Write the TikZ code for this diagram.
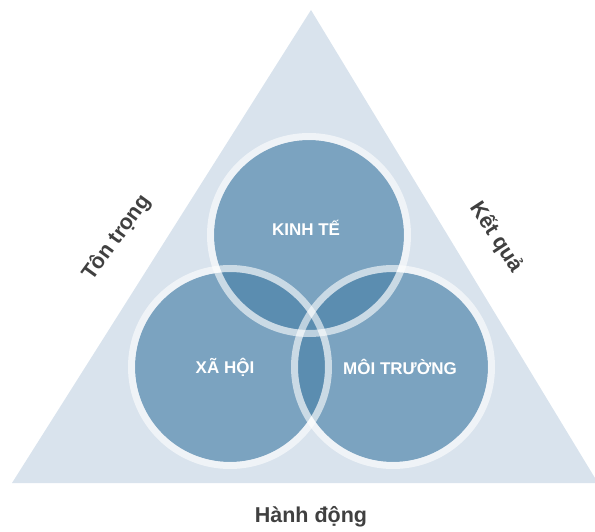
\documentclass[tikz,border=0pt]{standalone}
\usepackage{fontspec}
\setmainfont{Liberation Sans}
\definecolor{tri}{HTML}{D9E3ED}
\definecolor{cfill}{HTML}{7BA3C0}
\definecolor{cdark}{HTML}{5B8DB0}
\definecolor{txt}{HTML}{404040}
\tikzset{
  inlabel/.style={text=white, font=\bfseries\fontsize{17}{20}\selectfont, inner sep=0pt},
  outlabel/.style={text=txt, font=\bfseries\fontsize{21.5}{25}\selectfont, inner sep=0pt},
  ring/.style={draw=white, draw opacity=0.6, line width=7pt}
}
\begin{document}
\begin{tikzpicture}[x=1pt,y=-1pt]
\useasboundingbox (0,0) rectangle (595,532);
\clip (0,0) rectangle (595,532);
\fill[tri] (311,10) -- (12,483) -- (598,483) -- cycle;
\coordinate (ck) at (309,235);
\coordinate (cx) at (230,367);
\coordinate (cm) at (393,367);
\foreach \c in {ck,cx,cm} \fill[cfill] (\c) circle (95);
\begin{scope}
  \clip (ck) circle (95);
  \fill[cdark] (cx) circle (95);
  \fill[cdark] (cm) circle (95);
\end{scope}
\begin{scope}
  \clip (cx) circle (95);
  \fill[cdark] (cm) circle (95);
\end{scope}
\foreach \c in {ck,cx,cm} \draw[ring] (\c) circle (98.5);
\node[inlabel] (kt) at (306,228) {KINH TẾ};
\node[inlabel] (xh) at (225,367) {XÃ HỘI};
\node[inlabel] (mt) at (400,367) {MÔI TRƯỜNG};
\node[outlabel, rotate=54] (tt) at (117,238) {Tôn trọng};
\node[outlabel, rotate=-57] (kq) at (496,237) {Kết quả};
\node[outlabel] (hd) at (311,517) {Hành động};
\end{tikzpicture}
\end{document}
